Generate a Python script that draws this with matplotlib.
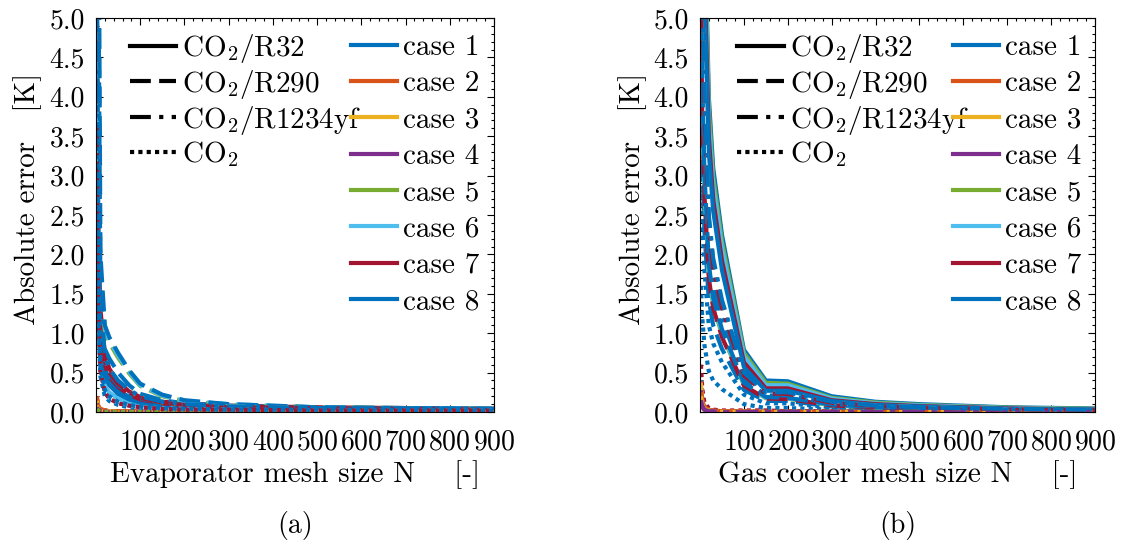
import matplotlib
matplotlib.use("Agg")
import matplotlib.pyplot as plt
from matplotlib.ticker import MultipleLocator, FormatStrFormatter, FixedLocator
from matplotlib.lines import Line2D

plt.rcParams['font.family'] = ['cmr10']
plt.rcParams['mathtext.fontset'] = 'cm'
plt.rcParams['axes.formatter.use_mathtext'] = True
plt.rcParams['axes.unicode_minus'] = False

fluids = [r'CO$_2$/R32', r'CO$_2$/R290', r'CO$_2$/R1234yf', r'CO$_2$']
cases = ['case 1', 'case 2', 'case 3', 'case 4', 'case 5', 'case 6', 'case 7', 'case 8']
colors = ['#0072BD', '#D95319', '#EDB120', '#7E2F8E', '#77AC30', '#4DBEEE', '#A2142F', '#0072BD']
styles = ['-', (0, (5, 2)), (0, (5, 2, 1, 2)), (0, (1, 1))]

xticks = [100, 200, 300, 400, 500, 600, 700, 800, 900]
yticks = [0.0, 0.5, 1.0, 1.5, 2.0, 2.5, 3.0, 3.5, 4.0, 4.5, 5.0]

# (a) evaporator mesh
N_evap = [2, 5, 10, 20, 30, 50, 75, 100, 150, 200, 300, 500, 900]

evap_r32 = [
    [6.0, 2.5, 1.0, 0.55, 0.42, 0.28, 0.19, 0.14, 0.1, 0.08, 0.06, 0.05, 0.04],
    [0.15, 0.06, 0.03, 0.02, 0.01, 0.01, 0.01, 0.01, 0.0, 0.0, 0.0, 0.0, 0.0],
    [0.12, 0.05, 0.02, 0.01, 0.01, 0.0, 0.0, 0.0, 0.0, 0.0, 0.0, 0.0, 0.0],
    [0.1, 0.04, 0.02, 0.01, 0.0, 0.0, 0.0, 0.0, 0.0, 0.0, 0.0, 0.0, 0.0],
    [0.05, 0.02, 0.01, 0.0, 0.0, 0.0, 0.0, 0.0, 0.0, 0.0, 0.0, 0.0, 0.0],
    [2.5, 1.3, 0.6, 0.33, 0.25, 0.17, 0.12, 0.09, 0.07, 0.06, 0.05, 0.04, 0.03],
    [3.7, 2.0, 1.3, 0.75, 0.55, 0.38, 0.26, 0.19, 0.13, 0.11, 0.08, 0.06, 0.04],
    [5.0, 2.2, 0.9, 0.45, 0.34, 0.23, 0.16, 0.12, 0.09, 0.07, 0.06, 0.05, 0.04],
]
evap_r290 = [
    [8.0, 4.0, 1.2, 0.8, 0.68, 0.5, 0.34, 0.23, 0.15, 0.11, 0.08, 0.05, 0.03],
    [0.2, 0.08, 0.04, 0.02, 0.01, 0.01, 0.01, 0.0, 0.0, 0.0, 0.0, 0.0, 0.0],
    [0.15, 0.06, 0.03, 0.01, 0.01, 0.0, 0.0, 0.0, 0.0, 0.0, 0.0, 0.0, 0.0],
    [0.12, 0.05, 0.02, 0.01, 0.0, 0.0, 0.0, 0.0, 0.0, 0.0, 0.0, 0.0, 0.0],
    [9.0, 4.6, 1.6, 1.02, 0.88, 0.69, 0.49, 0.33, 0.2, 0.14, 0.09, 0.06, 0.04],
    [9.4, 4.8, 1.7, 1.06, 0.91, 0.72, 0.51, 0.34, 0.21, 0.14, 0.1, 0.06, 0.04],
    [3.0, 1.6, 1.0, 0.6, 0.45, 0.32, 0.22, 0.16, 0.11, 0.09, 0.07, 0.05, 0.03],
    [12.0, 8.0, 2.0, 1.1, 0.95, 0.75, 0.53, 0.36, 0.22, 0.15, 0.1, 0.06, 0.04],
]
evap_r1234yf = [
    [6.5, 3.0, 1.1, 0.62, 0.48, 0.34, 0.24, 0.17, 0.12, 0.09, 0.07, 0.05, 0.03],
    [0.18, 0.07, 0.03, 0.02, 0.01, 0.01, 0.0, 0.0, 0.0, 0.0, 0.0, 0.0, 0.0],
    [0.14, 0.05, 0.02, 0.01, 0.01, 0.0, 0.0, 0.0, 0.0, 0.0, 0.0, 0.0, 0.0],
    [0.11, 0.04, 0.02, 0.01, 0.0, 0.0, 0.0, 0.0, 0.0, 0.0, 0.0, 0.0, 0.0],
    [7.0, 3.3, 1.15, 0.67, 0.52, 0.38, 0.26, 0.19, 0.12, 0.09, 0.07, 0.05, 0.03],
    [7.2, 3.4, 1.17, 0.68, 0.53, 0.39, 0.27, 0.19, 0.13, 0.1, 0.07, 0.05, 0.03],
    [6.8, 3.2, 1.12, 0.65, 0.5, 0.36, 0.25, 0.18, 0.12, 0.09, 0.06, 0.05, 0.03],
    [9.0, 6.0, 1.5, 0.7, 0.55, 0.4, 0.28, 0.2, 0.13, 0.1, 0.07, 0.05, 0.04],
]
evap_co2 = [
    [3.0, 1.2, 0.45, 0.2, 0.14, 0.09, 0.06, 0.05, 0.04, 0.03, 0.03, 0.02, 0.02],
    [0.1, 0.04, 0.02, 0.01, 0.0, 0.0, 0.0, 0.0, 0.0, 0.0, 0.0, 0.0, 0.0],
    [0.08, 0.03, 0.01, 0.0, 0.0, 0.0, 0.0, 0.0, 0.0, 0.0, 0.0, 0.0, 0.0],
    [0.06, 0.02, 0.01, 0.0, 0.0, 0.0, 0.0, 0.0, 0.0, 0.0, 0.0, 0.0, 0.0],
    [0.04, 0.02, 0.01, 0.0, 0.0, 0.0, 0.0, 0.0, 0.0, 0.0, 0.0, 0.0, 0.0],
    [3.8, 1.5, 0.55, 0.26, 0.18, 0.12, 0.08, 0.06, 0.05, 0.04, 0.03, 0.02, 0.02],
    [3.6, 1.4, 0.52, 0.25, 0.17, 0.11, 0.08, 0.06, 0.04, 0.03, 0.03, 0.02, 0.02],
    [4.0, 1.6, 0.6, 0.28, 0.2, 0.13, 0.09, 0.07, 0.05, 0.04, 0.03, 0.03, 0.02],
]

# (b) gas cooler mesh
N_gc = [2, 5, 10, 20, 30, 50, 100, 150, 200, 300, 400, 500, 700, 900]

gc_r32 = [
    [12, 9, 6.5, 4.0, 3.1, 2.25, 0.79, 0.40, 0.39, 0.20, 0.13, 0.1, 0.06, 0.045],
    [0.3, 0.15, 0.06, 0.03, 0.02, 0.01, 0.01, 0.0, 0.0, 0.0, 0.0, 0.0, 0.0, 0.0],
    [0.35, 0.12, 0.04, 0.02, 0.01, 0.01, 0.0, 0.0, 0.0, 0.0, 0.0, 0.0, 0.0, 0.0],
    [0.25, 0.1, 0.04, 0.02, 0.01, 0.0, 0.0, 0.0, 0.0, 0.0, 0.0, 0.0, 0.0, 0.0],
    [11.5, 8.6, 6.2, 3.85, 2.98, 2.16, 0.75, 0.37, 0.36, 0.18, 0.12, 0.09, 0.055, 0.04],
    [11, 8.3, 6.0, 3.7, 2.88, 2.08, 0.71, 0.34, 0.34, 0.17, 0.11, 0.085, 0.05, 0.035],
    [10.5, 7.8, 5.6, 3.5, 2.7, 1.92, 0.63, 0.3, 0.3, 0.15, 0.1, 0.075, 0.045, 0.03],
    [10, 7.4, 5.3, 3.3, 2.55, 1.8, 0.57, 0.27, 0.27, 0.14, 0.09, 0.07, 0.04, 0.03],
]
gc_r290 = [
    [4.3, 3.2, 2.3, 1.42, 1.1, 0.8, 0.28, 0.14, 0.14, 0.07, 0.05, 0.035, 0.02, 0.015],
    [0.2, 0.1, 0.04, 0.02, 0.01, 0.01, 0.0, 0.0, 0.0, 0.0, 0.0, 0.0, 0.0, 0.0],
    [0.15, 0.08, 0.03, 0.01, 0.01, 0.0, 0.0, 0.0, 0.0, 0.0, 0.0, 0.0, 0.0, 0.0],
    [0.12, 0.06, 0.03, 0.01, 0.0, 0.0, 0.0, 0.0, 0.0, 0.0, 0.0, 0.0, 0.0, 0.0],
    [5.25, 3.9, 2.85, 1.75, 1.36, 0.98, 0.345, 0.175, 0.17, 0.085, 0.055, 0.045, 0.03, 0.02],
    [5.4, 4.0, 2.92, 1.8, 1.4, 1.01, 0.355, 0.18, 0.175, 0.09, 0.06, 0.045, 0.03, 0.02],
    [5.1, 3.8, 2.77, 1.7, 1.32, 0.95, 0.335, 0.17, 0.165, 0.085, 0.055, 0.04, 0.025, 0.02],
    [5.6, 4.2, 3.05, 1.88, 1.45, 1.05, 0.37, 0.19, 0.18, 0.095, 0.06, 0.05, 0.03, 0.02],
]
gc_r1234yf = [
    [6.4, 4.8, 3.45, 2.12, 1.65, 1.19, 0.42, 0.21, 0.21, 0.105, 0.07, 0.05, 0.03, 0.025],
    [0.25, 0.12, 0.05, 0.02, 0.01, 0.01, 0.0, 0.0, 0.0, 0.0, 0.0, 0.0, 0.0, 0.0],
    [0.2, 0.1, 0.04, 0.02, 0.01, 0.0, 0.0, 0.0, 0.0, 0.0, 0.0, 0.0, 0.0, 0.0],
    [0.15, 0.08, 0.03, 0.01, 0.01, 0.0, 0.0, 0.0, 0.0, 0.0, 0.0, 0.0, 0.0, 0.0],
    [7.2, 5.4, 3.9, 2.4, 1.86, 1.35, 0.475, 0.24, 0.235, 0.12, 0.077, 0.06, 0.035, 0.028],
    [7.35, 5.5, 3.98, 2.45, 1.9, 1.37, 0.485, 0.245, 0.24, 0.122, 0.079, 0.06, 0.036, 0.028],
    [7.05, 5.3, 3.82, 2.35, 1.82, 1.32, 0.465, 0.235, 0.23, 0.117, 0.075, 0.058, 0.034, 0.027],
    [7.6, 5.7, 4.1, 2.5, 1.95, 1.42, 0.50, 0.25, 0.25, 0.13, 0.08, 0.06, 0.04, 0.03],
]
gc_co2 = [
    [1.6, 1.2, 0.85, 0.52, 0.4, 0.29, 0.1, 0.05, 0.05, 0.03, 0.02, 0.015, 0.01, 0.01],
    [0.15, 0.07, 0.03, 0.01, 0.01, 0.0, 0.0, 0.0, 0.0, 0.0, 0.0, 0.0, 0.0, 0.0],
    [0.12, 0.05, 0.02, 0.01, 0.0, 0.0, 0.0, 0.0, 0.0, 0.0, 0.0, 0.0, 0.0, 0.0],
    [0.1, 0.04, 0.02, 0.01, 0.0, 0.0, 0.0, 0.0, 0.0, 0.0, 0.0, 0.0, 0.0, 0.0],
    [0.2, 0.08, 0.03, 0.01, 0.01, 0.0, 0.0, 0.0, 0.0, 0.0, 0.0, 0.0, 0.0, 0.0],
    [0.4, 0.2, 0.08, 0.03, 0.02, 0.01, 0.01, 0.0, 0.0, 0.0, 0.0, 0.0, 0.0, 0.0],
    [0.6, 0.3, 0.12, 0.05, 0.03, 0.02, 0.02, 0.02, 0.01, 0.01, 0.01, 0.01, 0.0, 0.0],
    [3.4, 2.5, 1.8, 1.1, 0.87, 0.63, 0.22, 0.11, 0.11, 0.06, 0.04, 0.03, 0.02, 0.01],
]

TFS = 20
LBFS = 21
LFS = 21
LW = 3.0


def panel(ax, N, data, order, xlabel, leg1x, leg2x):
    for f in order:
        for c in range(8):
            ax.plot(N, data[f][c], color=colors[c], linestyle=styles[f], lw=LW)
    ax.set_xlim(0, 900)
    ax.set_ylim(0, 5)
    ax.xaxis.set_major_locator(FixedLocator(xticks))
    ax.xaxis.set_minor_locator(MultipleLocator(20))
    ax.yaxis.set_major_locator(FixedLocator(yticks))
    ax.yaxis.set_minor_locator(MultipleLocator(0.1))
    ax.yaxis.set_major_formatter(FormatStrFormatter('%.1f'))
    ax.tick_params(which='both', direction='in', top=True, right=True, labelsize=TFS, width=0.8)
    ax.tick_params(which='major', length=5)
    ax.tick_params(which='minor', length=2.5)
    ax.tick_params(axis='x', pad=12)
    ax.tick_params(axis='y', pad=8)
    ax.set_xlabel(xlabel, fontsize=LBFS, labelpad=4)
    ax.set_ylabel('Absolute error   [K]', fontsize=LBFS)
    ax.yaxis.set_label_coords(-0.135, 0.54)
    for s in ax.spines.values():
        s.set_linewidth(0.8)

    h1 = [Line2D([], [], color='k', linestyle=styles[f], lw=LW) for f in range(4)]
    h2 = [Line2D([], [], color=colors[c], lw=LW) for c in range(8)]
    l1 = ax.legend(h1, fluids, loc='upper left', bbox_to_anchor=(leg1x, 0.98), frameon=False,
                   fontsize=LFS, handlelength=1.6, handletextpad=0.2, labelspacing=0.1, borderpad=0.2,
                   borderaxespad=0)
    ax.add_artist(l1)
    ax.legend(h2, cases, loc='upper left', bbox_to_anchor=(leg2x, 0.973), frameon=False,
              fontsize=LFS, handlelength=1.6, handletextpad=0.2, labelspacing=0.34, borderpad=0.2,
              borderaxespad=0)


fig = plt.figure(figsize=(11.24, 5.46), dpi=100)
ax1 = fig.add_axes([0.0854, 0.2454, 0.3541, 0.7216])
ax2 = fig.add_axes([0.6228, 0.2454, 0.3514, 0.7216])

panel(ax1, N_evap, [evap_r32, evap_r290, evap_r1234yf, evap_co2], [0, 1, 2, 3],
      'Evaporator mesh size N    [-]', 0.07, 0.625)
panel(ax2, N_gc, [gc_r32, gc_r290, gc_r1234yf, gc_co2], [3, 0, 1, 2],
      'Gas cooler mesh size N    [-]', 0.08, 0.625)

fig.text(0.2625, 0.038, '(a)', fontsize=20, ha='center', va='center')
fig.text(0.7985, 0.038, '(b)', fontsize=20, ha='center', va='center')

fig.savefig('out.png', dpi=100)
